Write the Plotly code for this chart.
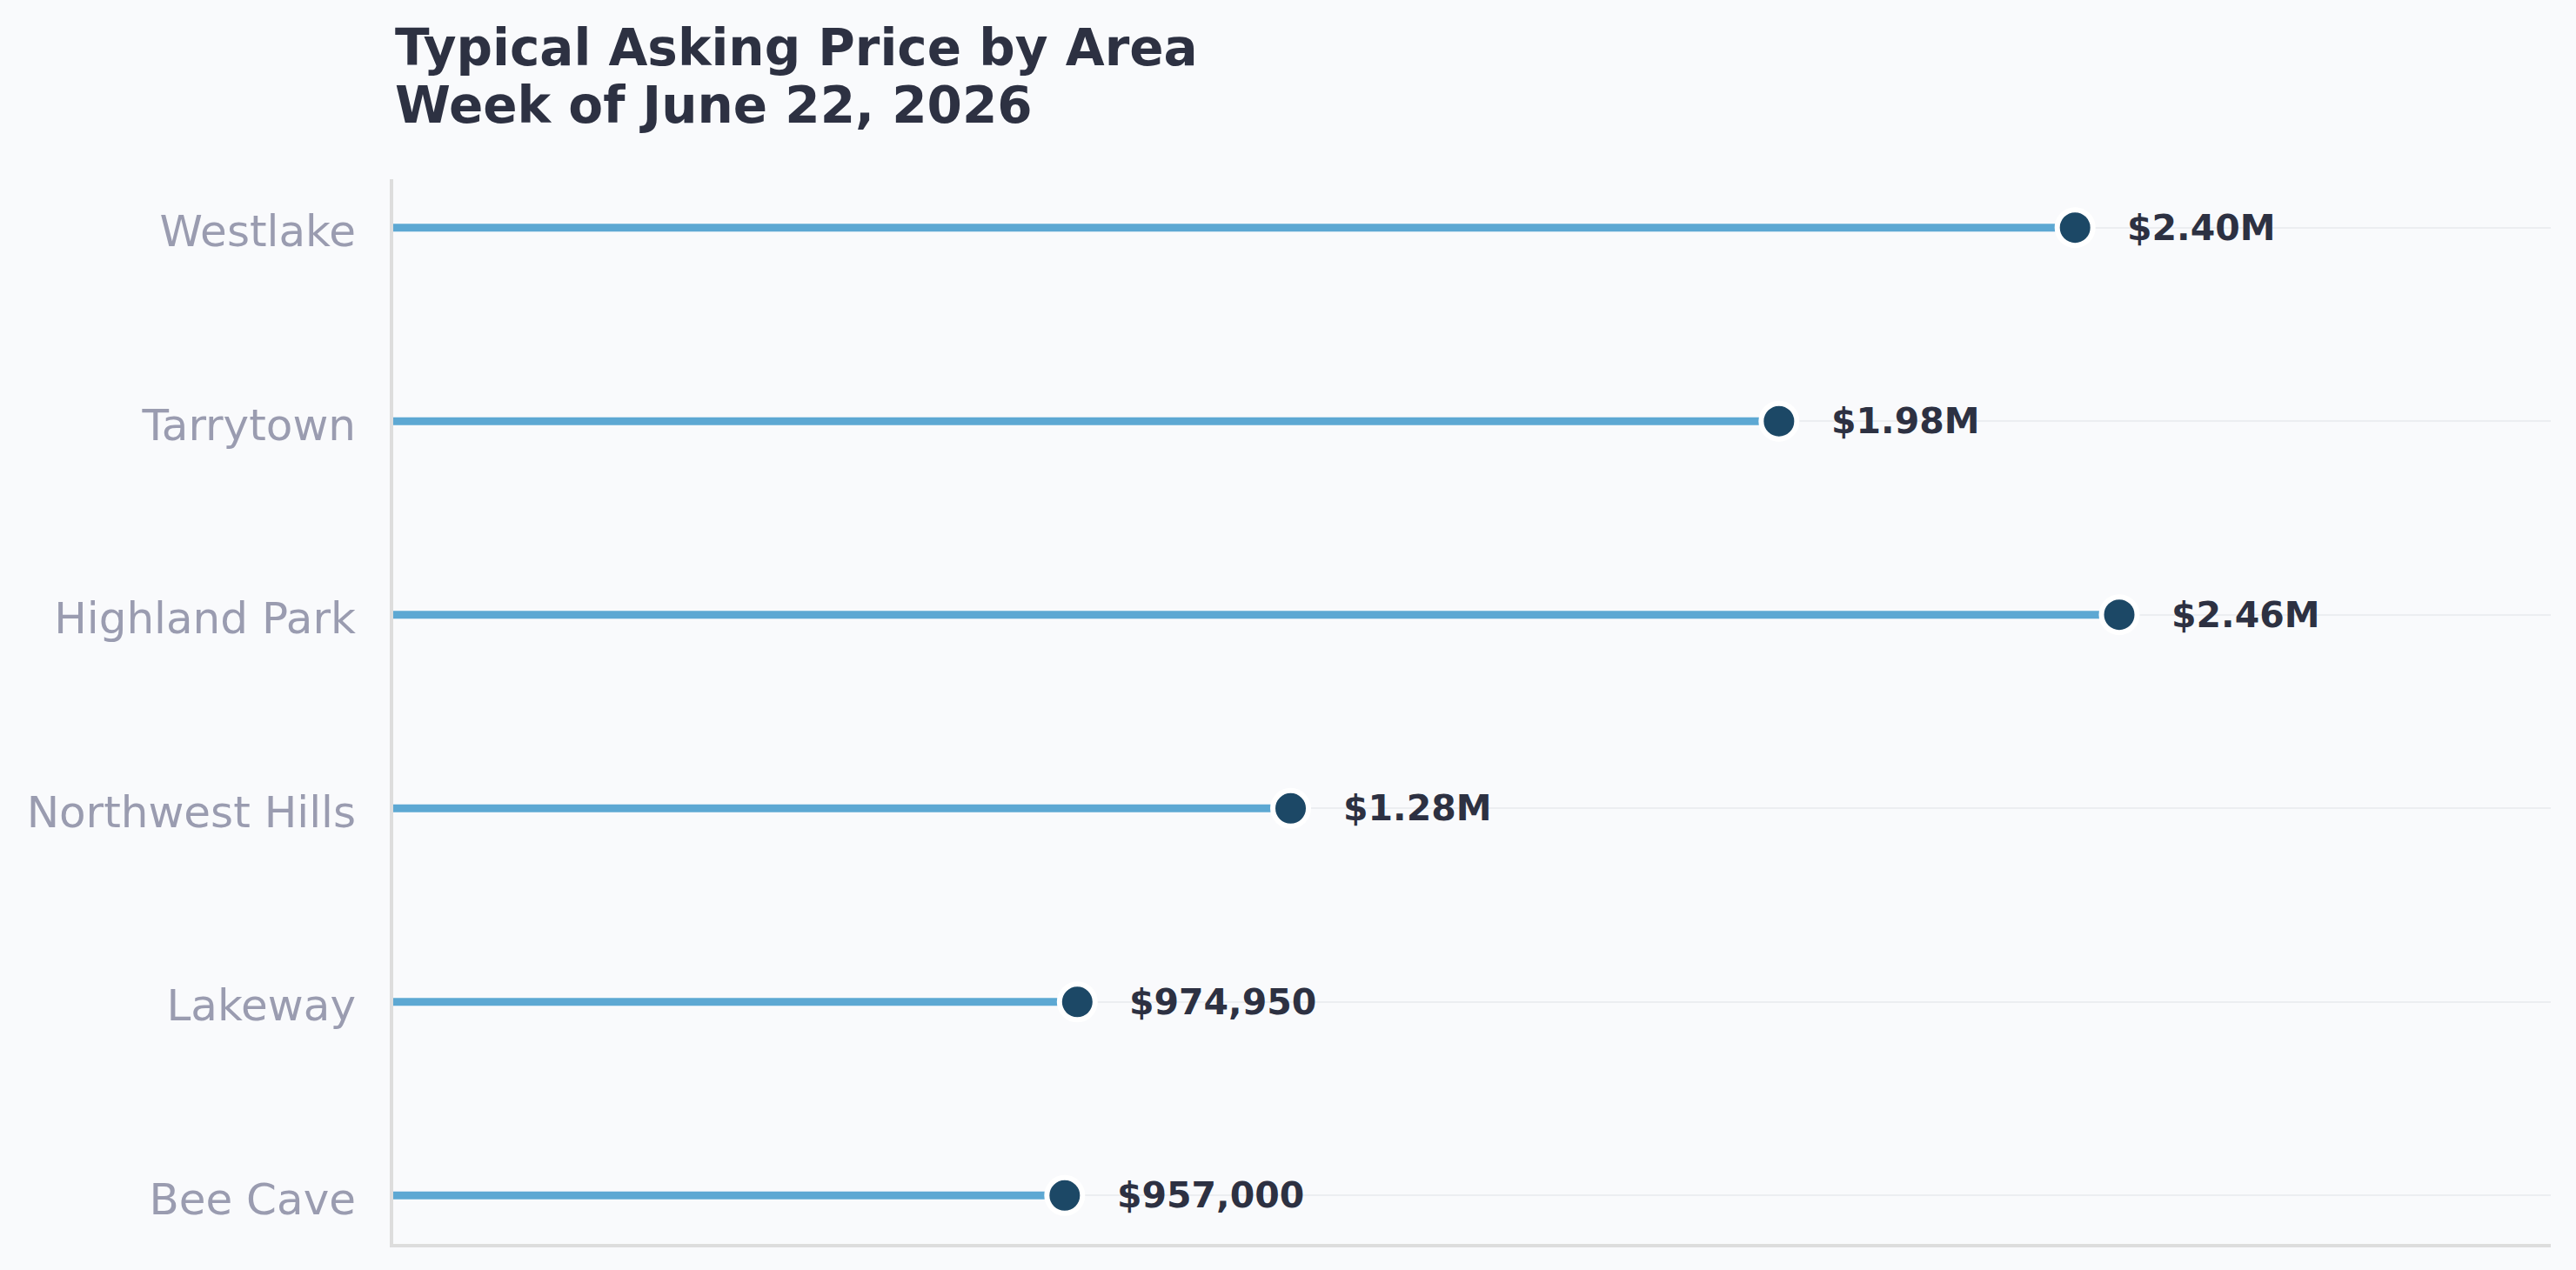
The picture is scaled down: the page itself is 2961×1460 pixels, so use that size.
import plotly.graph_objects as go

areas = ["Bee Cave", "Lakeway", "Northwest Hills", "Highland Park", "Tarrytown", "Westlake"]
prices = [957000, 974950, 1279000, 2460000, 1975000, 2397000]
labels = ["$957,000", "$974,950", "$1.28M", "$2.46M", "$1.98M", "$2.40M"]
title_lines = ["Typical Asking Price by Area", "Week of June 22, 2026"]

BG = "#f9fafc"
STEM = "#5da8d3"
DOT = "#1c4866"
TXT = "#2d3142"
TICK = "#9a9cb0"
FONT = "DejaVu Sans"

fig = go.Figure()

# stems
sx, sy = [], []
for a, p in zip(areas, prices):
    sx += [0, p, None]
    sy += [a, a, None]
fig.add_trace(go.Scatter(x=sx, y=sy, mode="lines",
                         line=dict(color=STEM, width=9),
                         hoverinfo="skip", showlegend=False))
# dots
fig.add_trace(go.Scatter(x=prices, y=areas, mode="markers",
                         marker=dict(size=41, color=DOT, line=dict(color="white", width=6)),
                         showlegend=False))

for a, p, t in zip(areas, prices, labels):
    fig.add_annotation(x=p, y=a, text=f"<b>{t}</b>", showarrow=False,
                       xanchor="left", yanchor="middle", xshift=58,
                       font=dict(family=FONT, size=41, color=TXT))

fig.add_annotation(xref="paper", yref="paper", x=0, y=1, yshift=151,
                   text=f"<b>{title_lines[0]}</b>", showarrow=False,
                   xanchor="left", yanchor="middle",
                   font=dict(family=FONT, size=58, color=TXT))
fig.add_annotation(xref="paper", yref="paper", x=0, y=1, yshift=85,
                   text=f"<b>{title_lines[1]}</b>", showarrow=False,
                   xanchor="left", yanchor="middle",
                   font=dict(family=FONT, size=58, color=TXT))

fig.update_layout(
    width=2961, height=1460,
    paper_bgcolor=BG, plot_bgcolor=BG,
    margin=dict(l=452, r=29, t=206, b=30, autoexpand=False),
    font=dict(family=FONT),
    xaxis=dict(range=[0, 2460000 * 1.25], showgrid=False, zeroline=False,
               showticklabels=False, ticks="", showline=True,
               linecolor="#dddddd", linewidth=4),
    yaxis=dict(type="category", categoryorder="array", categoryarray=areas,
               range=[-0.25, 5.25], showgrid=True, gridcolor="#eceef1", gridwidth=2,
               zeroline=False, ticks="", showline=True, linecolor="#dddddd", linewidth=4,
               ticklabelstandoff=29, ticklabelshift=4,
               tickfont=dict(family=FONT, size=50, color=TICK)),
)

fig.write_html("out.html")
